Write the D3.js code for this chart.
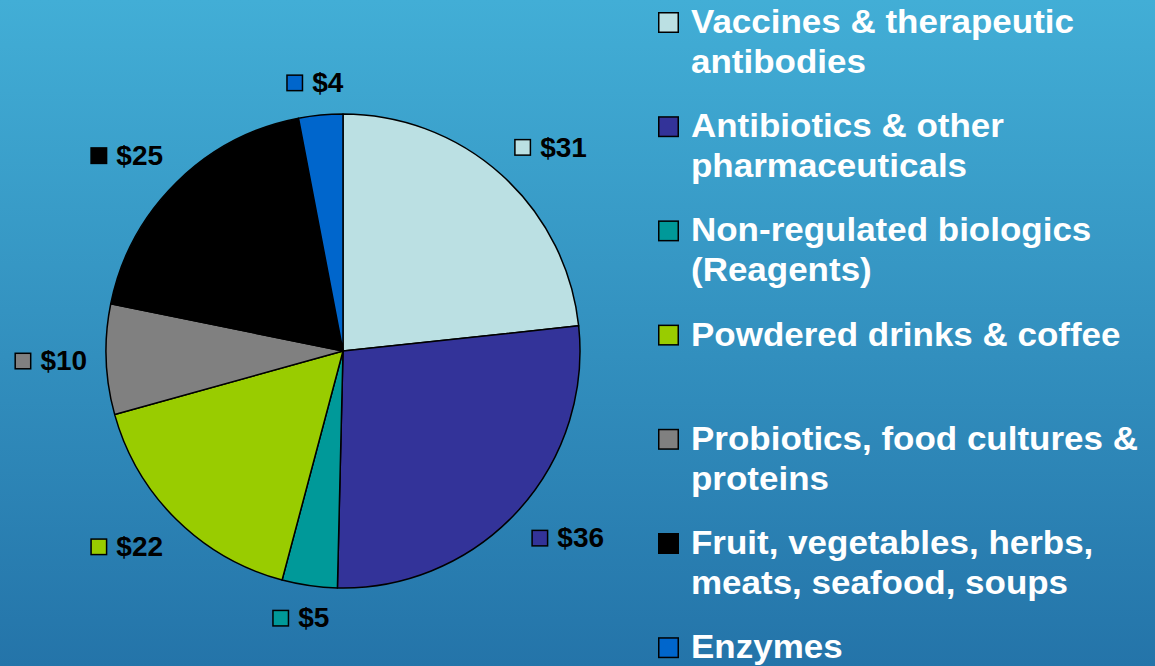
<!DOCTYPE html>
<html>
<head>
<meta charset="utf-8">
<script src="https://cdn.jsdelivr.net/npm/d3@7"></script>
<style>
  html, body { margin: 0; padding: 0; }
  body { width: 1155px; height: 666px; overflow: hidden; }
  text { font-family: "Liberation Sans", Arial, sans-serif; font-weight: bold; }
</style>
</head>
<body>
<div id="chart"></div>
<script>
var categories = ["Vaccines & therapeutic antibodies", "Antibiotics & other pharmaceuticals",
                  "Non-regulated biologics (Reagents)", "Powdered drinks & coffee",
                  "Probiotics, food cultures & proteins", "Fruit, vegetables, herbs, meats, seafood, soups",
                  "Enzymes"];
// legend lines as shown (two lines per entry, the slide wraps them by hand)
var legendLines = [["Vaccines & therapeutic", "antibodies"],
                   ["Antibiotics & other", "pharmaceuticals"],
                   ["Non-regulated biologics", "(Reagents)"],
                   ["Powdered drinks & coffee"],
                   ["Probiotics, food cultures &", "proteins"],
                   ["Fruit, vegetables, herbs,", "meats, seafood, soups"],
                   ["Enzymes"]];
var values = [31, 36, 5, 22, 10, 25, 4];
var colors = ["#bbe0e3", "#333399", "#009999", "#99cc00", "#808080", "#000000", "#0066cc"];

var width = 1155, height = 666,
    cx = 343, cy = 351,
    radius = 237;

var svg = d3.select("#chart")
  .append("svg")
    .attr("width", width)
    .attr("height", height);

// background gradient
var grad = svg.append("defs").append("linearGradient")
    .attr("id", "bg")
    .attr("x1", 0).attr("y1", 0).attr("x2", 0).attr("y2", 1);
grad.append("stop").attr("offset", "0%").attr("stop-color", "#42aed6");
grad.append("stop").attr("offset", "100%").attr("stop-color", "#2474a9");

svg.append("rect")
    .attr("width", width)
    .attr("height", height)
    .attr("fill", "url(#bg)");

var pie = d3.pie().sort(null).value(function(d) { return d; });
var arcs = pie(values);

var arc = d3.arc().innerRadius(0).outerRadius(radius);

var g = svg.append("g")
    .attr("transform", "translate(" + cx + "," + cy + ")");

g.selectAll("path")
  .data(arcs)
  .enter()
  .append("path")
    .attr("d", arc)
    .attr("fill", function(d, i) { return colors[i]; })
    .attr("stroke", "#000")
    .attr("stroke-width", 1.5)
    .attr("stroke-linejoin", "round");

// data labels: swatch + "$value"; the box corner (or edge) nearest the pie sits at r + gap
var labelFont = 28, sw = 17, textX = 26, boxH = 27, labelR = radius + 19;
var clamp = function(v) { return Math.max(-1, Math.min(1, v * 1.5)); };

var labels = g.append("g")
  .selectAll("g")
  .data(arcs)
  .enter()
  .append("g");

labels.each(function(d, i) {
  var sel = d3.select(this);
  var t = sel.append("text")
      .attr("x", textX)
      .attr("y", 0)
      .attr("font-size", labelFont)
      .attr("fill", "#000")
      .text("$" + values[i]);
  var w = textX + t.node().getComputedTextLength();
  sel.insert("rect", "text")
      .attr("x", 0.75)
      .attr("y", -sw)
      .attr("width", sw - 1.5)
      .attr("height", sw - 1.5)
      .attr("fill", colors[i])
      .attr("stroke", "#000")
      .attr("stroke-width", 1.5);
  var a = (d.startAngle + d.endAngle) / 2,
      px = Math.sin(a) * labelR,
      py = -Math.cos(a) * labelR,
      mx = px + clamp(Math.sin(a)) * w / 2,
      my = py - clamp(Math.cos(a)) * boxH / 2;
  sel.attr("transform", "translate(" + (mx - w / 2) + "," + (my + 9.5) + ")");
});

// legend
var legendX = 658, legendTop = 33, itemStep = 104.2, lineStep = 40, legendFont = 33, lsw = 21;
var legend = svg.append("g")
  .selectAll("g")
  .data(legendLines)
  .enter()
  .append("g")
    .attr("transform", function(d, i) { return "translate(" + legendX + "," + (legendTop + i * itemStep) + ")"; });

legend.append("rect")
    .attr("x", 0.75)
    .attr("y", -lsw + 0.75)
    .attr("width", lsw - 1.5)
    .attr("height", lsw - 1.5)
    .attr("fill", function(d, i) { return colors[i]; })
    .attr("stroke", "#000")
    .attr("stroke-width", 1.5);

legend.append("text")
    .attr("transform", "translate(33,0) scale(1.06,1)")
    .attr("font-size", legendFont)
    .attr("fill", "#fff")
  .selectAll("tspan")
  .data(function(d) { return d; })
  .enter()
  .append("tspan")
    .attr("x", 0)
    .attr("y", function(d, j) { return j * lineStep; })
    .text(function(d) { return d; });
</script>
</body>
</html>
